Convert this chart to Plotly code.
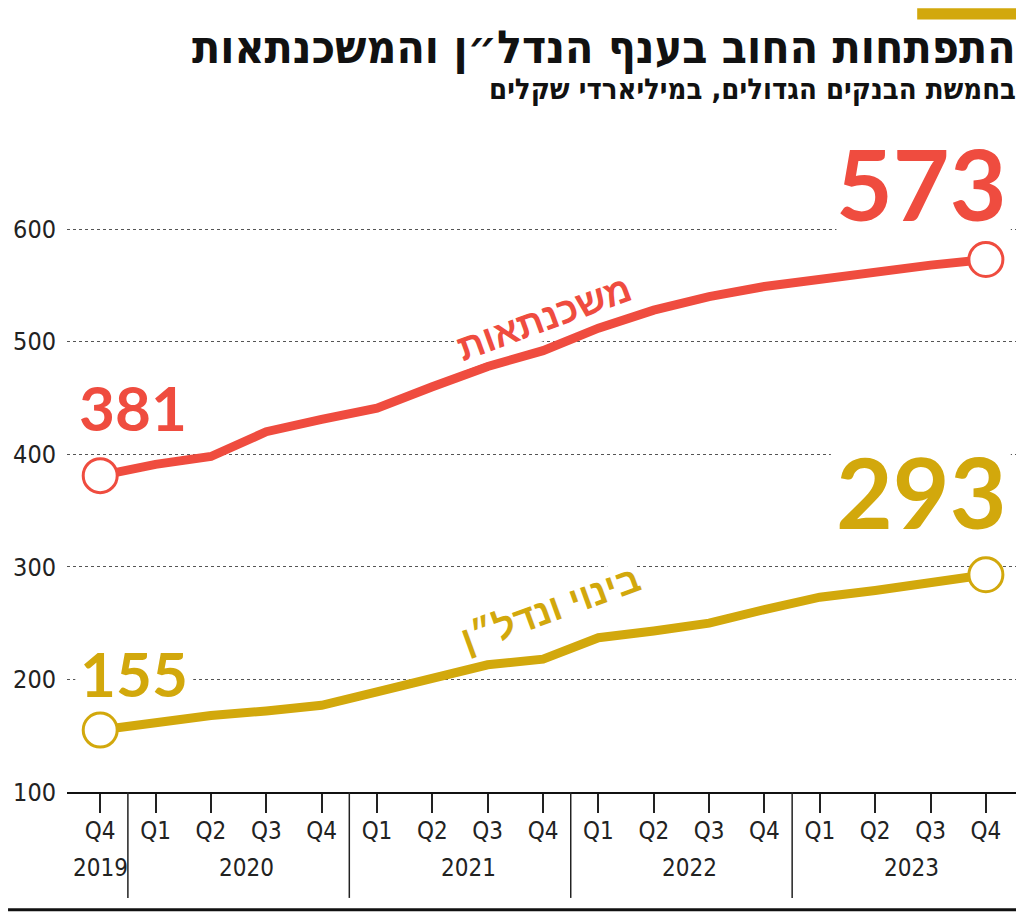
import plotly.graph_objects as go

# ---- data ----
quarters = ["Q4", "Q1", "Q2", "Q3", "Q4", "Q1", "Q2", "Q3", "Q4",
            "Q1", "Q2", "Q3", "Q4", "Q1", "Q2", "Q3", "Q4"]
years = ["2019", "2020", "2021", "2022", "2023"]
year_counts = [1, 4, 4, 4, 4]
mortgages = [381, 391, 398, 420, 431, 441, 460, 478, 492, 512, 528, 540, 549, 556, 563, 568, 573]
construction = [155, 162, 168, 172, 177, 189, 201, 213, 218, 237, 243, 250, 262, 273, 279, 285, 293]
y_ticks = [100, 200, 300, 400, 500, 600]

title_text = "התפתחות החוב בענף הנדל״ן והמשכנתאות"
subtitle_text = "בחמשת הבנקים הגדולים, במיליארדי שקלים"
mort_label = "משכנתאות"
cons_label = "בינוי ונדל״ן"

RED = "#EF4C3F"
YEL = "#D2A80C"
NARROW = "Liberation Sans Narrow, DejaVu Sans Condensed, Arial Narrow, sans-serif"
HEB = "Liberation Sans, DejaVu Sans, sans-serif"
NUMFONT = "Lato, Open Sans, sans-serif"

xs = list(range(len(quarters)))

fig = go.Figure()
for vals, col in [(mortgages, RED), (construction, YEL)]:
    fig.add_trace(go.Scatter(x=xs, y=vals, mode="lines",
                             line=dict(color=col, width=9), hoverinfo="skip"))
    fig.add_trace(go.Scatter(x=[xs[0], xs[-1]], y=[vals[0], vals[-1]], mode="markers",
                             marker=dict(size=34, color="white", line=dict(color=col, width=3)),
                             hoverinfo="skip"))

annotations = []
# value labels
annotations.append(dict(x=xs[-1] + 0.42, y=641, text=str(mortgages[-1]), xanchor="right", yanchor="middle",
                        showarrow=False, font=dict(family=NUMFONT, size=98, color=RED, weight="bold")))
annotations.append(dict(x=xs[-1] + 0.42, y=367, text=str(construction[-1]), xanchor="right", yanchor="middle",
                        showarrow=False, font=dict(family=NUMFONT, size=98, color=YEL, weight="bold")))
annotations.append(dict(x=xs[0] - 0.42, y=442, text=str(mortgages[0]), xanchor="left", yanchor="middle",
                        showarrow=False, font=dict(family=NUMFONT, size=62, color=RED, weight="bold")))
annotations.append(dict(x=xs[0] - 0.41, y=206, text=str(construction[0]), xanchor="left", yanchor="middle",
                        showarrow=False, font=dict(family=NUMFONT, size=62, color=YEL, weight="bold")))
# series labels
annotations.append(dict(x=8.02, y=521, text=f"<b>{mort_label}</b>", textangle=-20, showarrow=False,
                        font=dict(family=HEB, size=37, color=RED), bgcolor="white", borderpad=0))
annotations.append(dict(x=8.13, y=262, text=f"<b>{cons_label}</b>", textangle=-20, showarrow=False,
                        font=dict(family=HEB, size=37, color=YEL), bgcolor="white", borderpad=0))
# year labels
start = 0
for yr, n in zip(years, year_counts):
    center = start + (n - 1) / 2 + (0.15 if n > 1 else 0)
    annotations.append(dict(x=center, y=-0.115, xref="x", yref="paper", yanchor="middle", text=yr,
                            showarrow=False, font=dict(family=NARROW, size=24, color="#222")))
    start += n
# title
annotations.append(dict(x=1.0, y=1.125, xref="paper", yref="paper", text=f"<b>{title_text}</b>",
                        xanchor="right", yanchor="middle", showarrow=False,
                        font=dict(family=NARROW, size=46, color="#111")))
annotations.append(dict(x=1.0, y=1.062, xref="paper", yref="paper", text=f"<b>{subtitle_text}</b>",
                        xanchor="right", yanchor="middle", showarrow=False,
                        font=dict(family=NARROW, size=29, color="#111")))

shapes = []
# white knock-outs behind the big numbers (between grid and traces)
for x0, x1, y0, y1 in [(13.3, 16.45, 598, 680), (13.2, 16.45, 330, 402), (-0.45, 1.68, 177, 235)]:
    shapes.append(dict(type="rect", xref="x", yref="y", x0=x0, x1=x1, y0=y0, y1=y1,
                       fillcolor="white", line=dict(width=0), layer="between"))
# year separators
start = 0
for n in year_counts[:-1]:
    start += n
    shapes.append(dict(type="line", xref="x", yref="paper", x0=start - 0.5, x1=start - 0.5,
                       y0=0, y1=-0.160, line=dict(color="#222", width=1.5)))
# bottom rule
shapes.append(dict(type="line", xref="paper", yref="paper", x0=-0.062, x1=1.0, y0=-0.178, y1=-0.178,
                   line=dict(color="#111", width=3)))
# accent bar
shapes.append(dict(type="rect", xref="paper", yref="paper", x0=0.894, x1=0.999, y0=1.167, y1=1.184,
                   fillcolor=YEL, line=dict(width=0)))

fig.update_layout(
    width=1016, height=907,
    margin=dict(l=59, r=6, t=122, b=123),
    paper_bgcolor="white", plot_bgcolor="white",
    showlegend=False,
    annotations=annotations, shapes=shapes,
    xaxis=dict(range=[-0.6, 16.58], tickmode="array", tickvals=xs, ticktext=quarters,
               ticks="outside", ticklen=19, tickwidth=1.5, tickcolor="#222", ticklabelstandoff=-3,
               showline=True, linecolor="#111", linewidth=2, showgrid=False, zeroline=False,
               tickfont=dict(family=NARROW, size=24, color="#222"), fixedrange=True),
    yaxis=dict(range=[100, 688], tickmode="array", tickvals=y_ticks,
               showgrid=True, gridcolor="#555", griddash="dot", gridwidth=1,
               zeroline=False, showline=False, ticks="", ticklabelstandoff=10,
               tickfont=dict(family=NARROW, size=25, color="#222"), fixedrange=True),
)

fig.write_html("out.html")
